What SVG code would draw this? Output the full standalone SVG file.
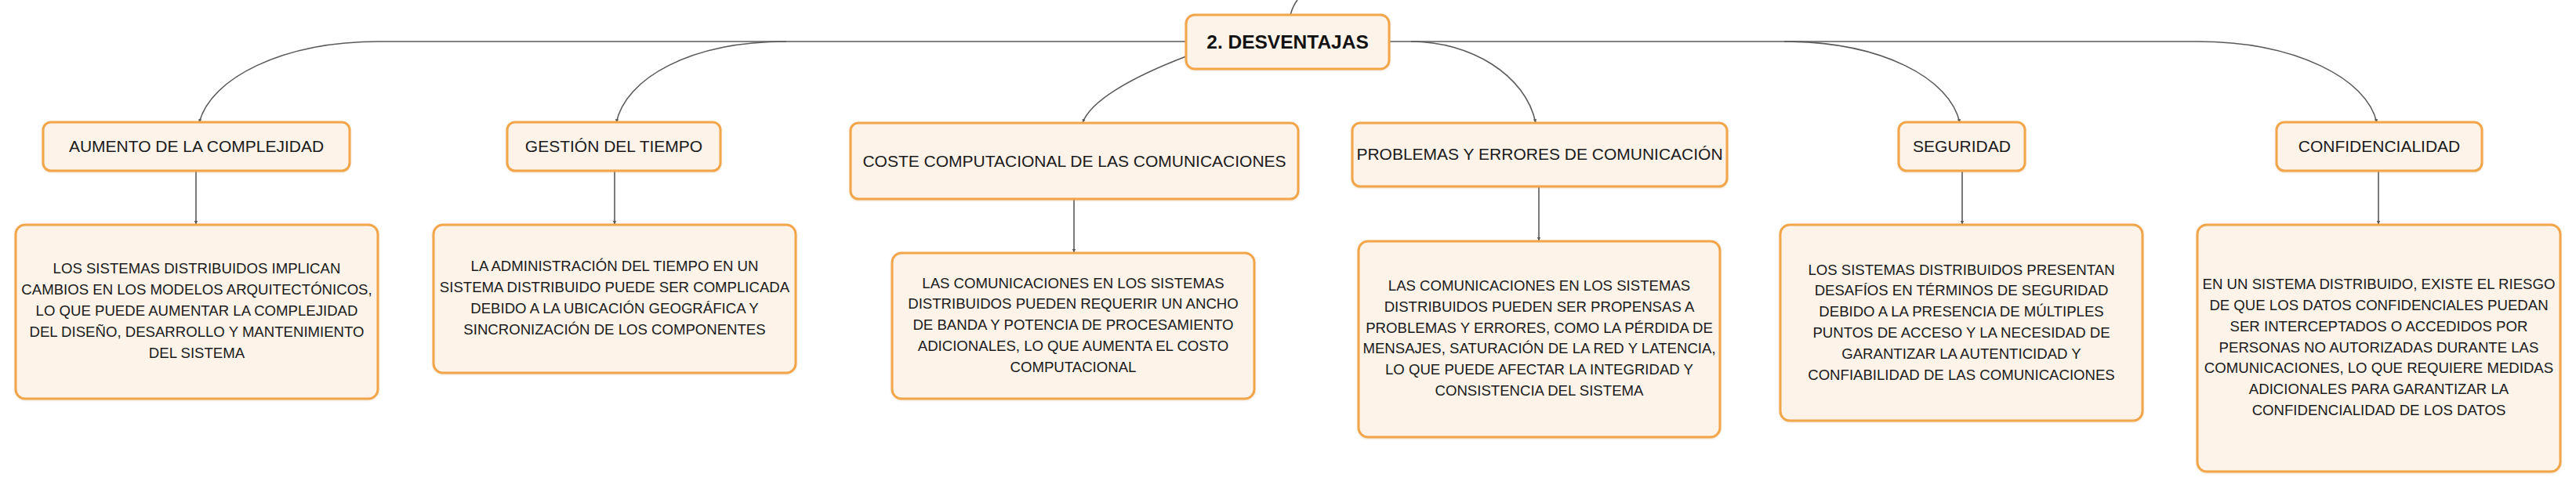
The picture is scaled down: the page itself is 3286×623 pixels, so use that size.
<svg xmlns="http://www.w3.org/2000/svg" width="3286" height="623" viewBox="0 0 3286 623">
<defs>
<marker id="arr" viewBox="0 0 6 6" refX="6" refY="3" markerWidth="5" markerHeight="5" markerUnits="userSpaceOnUse" orient="auto">
<path d="M0,0.5 L6,3 L0,5.5 Z" fill="#5a5a5a"/>
</marker>
<filter id="sh" x="-5%" y="-5%" width="110%" height="115%">
<feDropShadow dx="0" dy="1" stdDeviation="1" flood-color="#c98a3c" flood-opacity="0.25"/>
</filter>
</defs>
<style>
.bg{fill:#ffffff}
.box{fill:#fdf3e9;stroke:#f2a54a;stroke-width:3}
.con{fill:none;stroke:#5a5a5a;stroke-width:1.6}
.t{font-family:"Liberation Sans",Arial,sans-serif;font-size:21px;fill:#1a1a1a;text-anchor:middle}
.d{font-family:"Liberation Sans",Arial,sans-serif;font-size:18.6px;fill:#1a1a1a;text-anchor:middle}
.h{font-family:"Liberation Sans",Arial,sans-serif;font-size:24.5px;font-weight:bold;fill:#111111;text-anchor:middle}
</style>
<rect class="bg" x="0" y="0" width="3286" height="623"/>

<g id="connectors">
<path class="con" d="M1646 19 C1648 12 1651 5 1655 0"/>
<path class="con" d="M1513 53 L484 53"/>
<path class="con" d="M1772 53 L2803 53"/>
<path class="con" marker-end="url(#arr)" d="M484 53 C360 53 268 100 254 157"/>
<path class="con" marker-end="url(#arr)" d="M1003 53 C880 53 798 100 786 157"/>
<path class="con" marker-end="url(#arr)" d="M1513 72 C1440 100 1390 130 1381 157"/>
<path class="con" marker-end="url(#arr)" d="M1800 53 C1875 53 1946 95 1959 157"/>
<path class="con" marker-end="url(#arr)" d="M2276 53 C2400 53 2488 100 2500 157"/>
<path class="con" marker-end="url(#arr)" d="M2803 53 C2927 53 3020 100 3032 157"/>
<path class="con" marker-end="url(#arr)" d="M250 218 L250 287"/>
<path class="con" marker-end="url(#arr)" d="M784 218 L784 287"/>
<path class="con" marker-end="url(#arr)" d="M1370 254 L1370 323"/>
<path class="con" marker-end="url(#arr)" d="M1963 238 L1963 308"/>
<path class="con" marker-end="url(#arr)" d="M2503 218 L2503 287"/>
<path class="con" marker-end="url(#arr)" d="M3034 218 L3034 287"/>
</g>

<g id="n-desventajas">
<rect class="box" filter="url(#sh)" x="1513" y="19" width="259" height="69" rx="11"/>
<text class="h" x="1642.5" y="62">2. DESVENTAJAS</text>
</g>

<g id="n-complejidad">
<rect class="box" filter="url(#sh)" x="55" y="156" width="391" height="62" rx="10"/>
<text class="t" x="250.5" y="194">AUMENTO DE LA COMPLEJIDAD</text>
</g>
<g id="n-tiempo">
<rect class="box" filter="url(#sh)" x="647" y="156" width="272" height="62" rx="10"/>
<text class="t" x="783" y="194">GESTIÓN DEL TIEMPO</text>
</g>
<g id="n-coste">
<rect class="box" filter="url(#sh)" x="1085" y="157" width="571" height="97" rx="10"/>
<text class="t" x="1370.5" y="212.5">COSTE COMPUTACIONAL DE LAS COMUNICACIONES</text>
</g>
<g id="n-problemas">
<rect class="box" filter="url(#sh)" x="1725" y="157" width="478" height="81" rx="10"/>
<text class="t" x="1964" y="204">PROBLEMAS Y ERRORES DE COMUNICACIÓN</text>
</g>
<g id="n-seguridad">
<rect class="box" filter="url(#sh)" x="2422" y="156" width="161" height="62" rx="10"/>
<text class="t" x="2502.5" y="194">SEGURIDAD</text>
</g>
<g id="n-confidencialidad">
<rect class="box" filter="url(#sh)" x="2904" y="156" width="262" height="62" rx="10"/>
<text class="t" x="3035" y="194">CONFIDENCIALIDAD</text>
</g>

<g id="d-complejidad">
<rect class="box" filter="url(#sh)" x="20" y="287" width="462" height="222" rx="12"/>
<text class="d" x="251" y="349.4">LOS SISTEMAS DISTRIBUIDOS IMPLICAN</text>
<text class="d" x="251" y="376.2">CAMBIOS EN LOS MODELOS ARQUITECTÓNICOS,</text>
<text class="d" x="251" y="403">LO QUE PUEDE AUMENTAR LA COMPLEJIDAD</text>
<text class="d" x="251" y="429.8">DEL DISEÑO, DESARROLLO Y MANTENIMIENTO</text>
<text class="d" x="251" y="456.6">DEL SISTEMA</text>
</g>
<g id="d-tiempo">
<rect class="box" filter="url(#sh)" x="553" y="287" width="462" height="189" rx="12"/>
<text class="d" x="784" y="346.3">LA ADMINISTRACIÓN DEL TIEMPO EN UN</text>
<text class="d" x="784" y="373.1">SISTEMA DISTRIBUIDO PUEDE SER COMPLICADA</text>
<text class="d" x="784" y="399.9">DEBIDO A LA UBICACIÓN GEOGRÁFICA Y</text>
<text class="d" x="784" y="426.7">SINCRONIZACIÓN DE LOS COMPONENTES</text>
</g>
<g id="d-coste">
<rect class="box" filter="url(#sh)" x="1138" y="323" width="462" height="186" rx="12"/>
<text class="d" x="1369" y="367.6">LAS COMUNICACIONES EN LOS SISTEMAS</text>
<text class="d" x="1369" y="394.4">DISTRIBUIDOS PUEDEN REQUERIR UN ANCHO</text>
<text class="d" x="1369" y="421.2">DE BANDA Y POTENCIA DE PROCESAMIENTO</text>
<text class="d" x="1369" y="448">ADICIONALES, LO QUE AUMENTA EL COSTO</text>
<text class="d" x="1369" y="474.8">COMPUTACIONAL</text>
</g>
<g id="d-problemas">
<rect class="box" filter="url(#sh)" x="1733" y="308" width="461" height="250" rx="12"/>
<text class="d" x="1963.5" y="371">LAS COMUNICACIONES EN LOS SISTEMAS</text>
<text class="d" x="1963.5" y="397.8">DISTRIBUIDOS PUEDEN SER PROPENSAS A</text>
<text class="d" x="1963.5" y="424.6">PROBLEMAS Y ERRORES, COMO LA PÉRDIDA DE</text>
<text class="d" x="1963.5" y="451.4">MENSAJES, SATURACIÓN DE LA RED Y LATENCIA,</text>
<text class="d" x="1963.5" y="478.2">LO QUE PUEDE AFECTAR LA INTEGRIDAD Y</text>
<text class="d" x="1963.5" y="505">CONSISTENCIA DEL SISTEMA</text>
</g>
<g id="d-seguridad">
<rect class="box" filter="url(#sh)" x="2271" y="287" width="462" height="250" rx="12"/>
<text class="d" x="2502" y="350.5">LOS SISTEMAS DISTRIBUIDOS PRESENTAN</text>
<text class="d" x="2502" y="377.3">DESAFÍOS EN TÉRMINOS DE SEGURIDAD</text>
<text class="d" x="2502" y="404.1">DEBIDO A LA PRESENCIA DE MÚLTIPLES</text>
<text class="d" x="2502" y="430.9">PUNTOS DE ACCESO Y LA NECESIDAD DE</text>
<text class="d" x="2502" y="457.7">GARANTIZAR LA AUTENTICIDAD Y</text>
<text class="d" x="2502" y="484.5">CONFIABILIDAD DE LAS COMUNICACIONES</text>
</g>
<g id="d-confidencialidad">
<rect class="box" filter="url(#sh)" x="2803" y="287" width="463" height="315" rx="12"/>
<text class="d" x="3034.5" y="369.1">EN UN SISTEMA DISTRIBUIDO, EXISTE EL RIESGO</text>
<text class="d" x="3034.5" y="395.9">DE QUE LOS DATOS CONFIDENCIALES PUEDAN</text>
<text class="d" x="3034.5" y="422.7">SER INTERCEPTADOS O ACCEDIDOS POR</text>
<text class="d" x="3034.5" y="449.5">PERSONAS NO AUTORIZADAS DURANTE LAS</text>
<text class="d" x="3034.5" y="476.3">COMUNICACIONES, LO QUE REQUIERE MEDIDAS</text>
<text class="d" x="3034.5" y="503.1">ADICIONALES PARA GARANTIZAR LA</text>
<text class="d" x="3034.5" y="529.9">CONFIDENCIALIDAD DE LOS DATOS</text>
</g>
</svg>
